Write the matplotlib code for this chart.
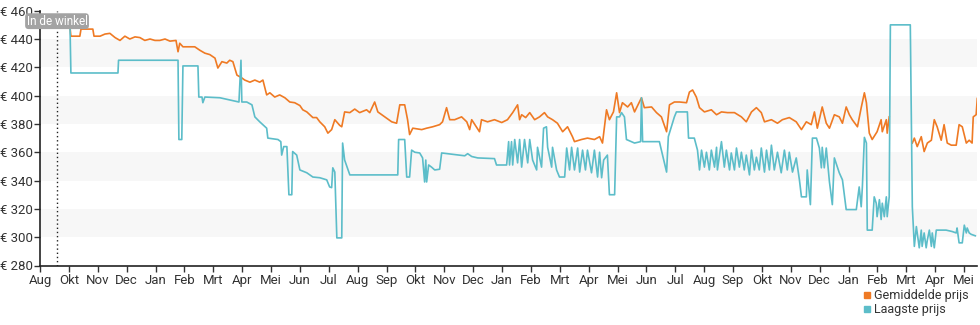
import numpy as np
import matplotlib.pyplot as plt
from matplotlib.lines import Line2D

# Month ticks (one tick per month, position 0 = left edge of the axis)
MONTH_LABELS = ["Aug", "Okt", "Nov", "Dec", "Jan", "Feb", "Mrt", "Apr", "Mei",
                "Jun", "Jul", "Aug", "Sep", "Okt", "Nov", "Dec", "Jan", "Feb",
                "Mrt", "Apr", "Mei", "Jun", "Jul", "Aug", "Sep", "Okt", "Nov",
                "Dec", "Jan", "Feb", "Mrt", "Apr", "Mei"]
Y_TICKS = [280, 300, 320, 340, 360, 380, 400, 420, 440, 460]
STORE_MONTH = 0.59  # "In de winkel" marker

# Gemiddelde prijs (average price), time in months from the left edge
avg_month = [0.00, 0.59, 0.76, 0.90, 1.04, 1.07, 1.38, 1.42, 1.83, 1.87, 2.08, 2.25,
             2.42, 2.60, 2.77, 2.94, 3.11, 3.29, 3.46, 3.63, 3.81, 3.98, 4.15, 4.33,
             4.50, 4.71, 4.78, 4.84, 4.95, 5.19, 5.36, 5.54, 5.71, 5.88, 6.06, 6.16,
             6.30, 6.47, 6.57, 6.68, 6.82, 6.99, 7.09, 7.27, 7.44, 7.61, 7.72, 7.85,
             7.96, 8.13, 8.30, 8.48, 8.65, 8.82, 9.00, 9.10, 9.24, 9.45, 9.58, 9.69,
             9.86, 9.97, 10.10, 10.21, 10.38, 10.45, 10.55, 10.73, 10.90, 11.07, 11.31,
             11.42, 11.59, 11.70, 11.94, 12.18, 12.35, 12.46, 12.63, 12.73, 12.80, 12.91,
             13.22, 13.39, 13.60, 13.84, 13.94, 14.08, 14.19, 14.36, 14.60, 14.78, 14.88,
             14.95, 15.22, 15.29, 15.50, 15.74, 15.99, 16.19, 16.37, 16.54, 16.61, 16.68,
             16.82, 16.96, 17.13, 17.30, 17.47, 17.58, 17.75, 17.92, 18.10, 18.27, 18.44,
             18.51, 18.75, 18.96, 19.20, 19.38, 19.48, 19.62, 19.72, 19.86, 19.97, 20.07,
             20.17, 20.35, 20.48, 20.59, 20.83, 20.93, 21.18, 21.35, 21.52, 21.70, 21.80,
             21.97, 22.15, 22.39, 22.49, 22.60, 22.73, 22.84, 23.01, 23.25, 23.43, 23.60,
             23.81, 24.05, 24.29, 24.46, 24.64, 24.81, 24.98, 25.09, 25.33, 25.54, 25.71,
             25.95, 26.19, 26.37, 26.54, 26.71, 26.82, 26.92, 27.09, 27.23, 27.34, 27.51,
             27.68, 27.79, 27.92, 28.03, 28.13, 28.31, 28.44, 28.55, 28.62, 28.72, 28.82,
             28.99, 29.13, 29.17, 29.31, 29.34, 29.41, 29.80, 30.21, 30.28, 30.38, 30.52,
             30.62, 30.73, 30.87, 30.97, 31.07, 31.21, 31.31, 31.42, 31.56, 31.73, 31.83,
             31.94, 32.08, 32.18, 32.28, 32.32, 32.42, 32.46]
avg_price = [449, 449, 455, 452, 448, 442, 442, 447, 447, 442, 442, 443.5,
             444, 441, 439, 442, 440, 441.5, 441, 439, 440, 439, 439, 440,
             438.5, 439, 431, 437, 434.5, 434.5, 434.5, 432, 430, 429, 426.5, 419.5,
             424, 423, 425, 424, 414.5, 412.5, 411, 409.5, 411, 409.5, 411, 400.5,
             402, 399, 400.5, 398.5, 395.5, 395, 393, 390, 388.5, 384.5, 384.5, 381.5,
             378, 373.5, 376, 383, 379, 378, 388.5, 388, 390.5, 388, 390,
             388, 395.5, 388.5, 385, 381.5, 380.5, 393.5, 393.5, 383, 372.5, 377,
             376, 377, 378, 379.5, 381.5, 391.5, 383, 383, 385, 381.5, 376,
             383, 374.5, 383, 381.5, 383, 381, 383, 388, 393.5, 383, 386.5,
             384.5, 388, 383, 385, 388, 385, 383, 380.5, 374.5, 378, 371,
             367.5, 369, 370, 369, 371, 366.5, 390, 383, 388.5, 402, 388,
             395, 392, 395, 388.5, 398.5, 391.5, 392, 388, 385, 374.5, 393.5,
             395.5, 395.5, 395, 402.5, 404, 399, 391.5, 388.5, 390, 386.5, 388.5,
             388, 388, 385, 381.5, 388.5, 391.5, 388, 381.5, 383, 380.5, 383,
             384.5, 381.5, 376, 381.5, 379.5, 388.5, 377, 392, 380.5, 377, 386.5,
             385, 380.5, 392, 386.5, 383, 378, 391.5, 402, 395, 373.5, 369,
             374.5, 383, 374.5, 383, 373.5, 385, np.nan, 366.5, 370, 364, 371,
             360.5, 366.5, 368.5, 383, 378, 368.5, 379.5, 366.5, 365, 365, 379.5,
             378, 366.5, 368.5, 366.5, 385, 386.5, 398]

# Laagste prijs (lowest price)
low_month = [0.00, 0.59, 0.62, 1.04, 1.07, 2.70, 2.72, 4.78, 4.81, 4.91, 4.95, 5.47,
             5.50, 5.61, 5.64, 5.71, 6.23, 6.89, 6.96, 6.99, 7.16, 7.34, 7.44, 7.61,
             7.85, 7.89, 8.24, 8.34, 8.37, 8.44, 8.55, 8.62, 8.72, 8.75, 8.89, 9.00,
             9.24, 9.45, 9.69, 9.93, 10.03, 10.10, 10.14, 10.21, 10.28, 10.45, 10.48,
             10.55, 10.73, 12.39, 12.42, 12.63, 12.70, 12.80, 12.87, 12.98, 13.15, 13.25,
             13.32, 13.36, 13.39, 13.46, 13.56, 13.67, 13.84, 13.91, 14.71, 14.81, 14.95,
             15.16, 15.74, 15.81, 16.16, 16.23, 16.26, 16.33, 16.37, 16.44, 16.54, 16.61,
             16.68, 16.78, 16.89, 16.96, 17.06, 17.20, 17.23, 17.37, 17.44, 17.54, 17.58,
             17.72, 17.75, 17.89, 17.99, 18.17, 18.24, 18.34, 18.41, 18.51, 18.62, 18.69,
             18.79, 18.89, 18.96, 19.10, 19.20, 19.31, 19.38, 19.45, 19.52, 19.65, 19.72,
             19.90, 19.97, 20.07, 20.14, 20.24, 20.31, 20.59, 20.80, 20.83, 20.87, 21.45,
             21.52, 21.70, 21.76, 21.97, 22.04, 22.42, 22.46, 22.66, 22.77, 22.84, 22.91,
             23.01, 23.08, 23.18, 23.25, 23.36, 23.43, 23.46, 23.60, 23.70, 23.77, 23.88,
             23.94, 24.05, 24.12, 24.22, 24.29, 24.39, 24.46, 24.57, 24.64, 24.74, 24.81,
             24.91, 24.98, 25.09, 25.16, 25.26, 25.33, 25.43, 25.54, 25.67, 25.78, 25.88,
             25.95, 26.06, 26.19, 26.30, 26.37, 26.54, 26.57, 26.68, 26.75, 26.89, 26.99,
             27.06, 27.09, 27.16, 27.23, 27.34, 27.44, 27.51, 27.68, 27.79, 27.92, 28.27,
             28.37, 28.44, 28.48, 28.55, 28.62, 28.65, 28.82, 28.89, 28.96, 28.99, 29.07,
             29.13, 29.17, 29.24, 29.31, 29.34, 29.41, 29.45, 30.14, 30.21, 30.28, 30.35,
             30.38, 30.45, 30.52, 30.55, 30.62, 30.69, 30.73, 30.80, 30.87, 30.90, 30.97,
             31.04, 31.21, 31.38, 31.59, 31.73, 31.76, 31.83, 31.94, 32.01, 32.08, 32.11,
             32.18, 32.25, 32.39]
low_price = [450, 449, 448, 448, 416, 416, 425, 425, 369, 369, 421, 421,
             399, 399, 395, 399, 398.5, 395.5, 425, 395.5, 395.5, 393.5, 385, 381.5,
             377, 370, 369, 367.5, 358, 364, 364, 330, 330, 360.5, 358, 347.5,
             345.5, 342.5, 342, 340.5, 335.5, 335, 349, 346, 299.5, 299.5, 366.5,
             354.5, 344, 344, 369, 369, 342.5, 342.5, 361.5, 360, 359.5, 356,
             339, 354.5, 339, 351, 349.5, 347.5, 348, 359.5, 357.5, 359, 357,
             356, 355.5, 351, 351, 367.5, 351, 367.5, 351, 369, 352.5, 369,
             349.5, 369, 352.5, 369, 354.5, 347.5, 363.5, 349.5, 377, 378, 363.5,
             349.5, 363.5, 347.5, 342.5, 342.5, 363, 347.5, 363.5, 347.5, 363, 346,
             361.5, 347.5, 361.5, 345.5, 361.5, 342.5, 360, 342, 354.5, 358, 330,
             330, 385, 385, 388, 385, 369, 366.5, 367.5, 398.5, 367.5, 367.5,
             361.5, 346, 371, 385, 388.5, 388.5, 370, 370, 361.5, 347.5, 361.5,
             349.5, 360, 347.5, 361.5, 349.5, 363.5, 347.5, 367.5, 349.5, 361.5, 347.5,
             359.5, 347.5, 363, 349.5, 360, 347.5, 358, 344, 361.5, 347.5, 356.5,
             347.5, 363, 346, 361.5, 347.5, 365, 347.5, 360, 345.5, 361.5, 347.5,
             360, 346, 356, 340.5, 328.5, 328.5, 347.5, 323, 370, 370, 363,
             349, 363.5, 349, 363, 339, 323, 356, 345.5, 340.5, 319.5, 319.5,
             335.5, 321.5, 335.5, 370.5, 366.5, 305, 305, 328.5, 324, 314.5, 326.5,
             312.5, 324, 314.5, 328.5, 314.5, 328.5, 450, 450, 321.5, 293.5, 307.5,
             303, 292.5, 305, 293.5, 303, 292.5, 298, 305, 293.5, 303, 292.5,
             305, 305, 305, 304, 303, 306.5, 296, 296, 308.5, 303, 306.5,
             303, 302, 301]

AVG_COLOR = "#ef7a24"
LOW_COLOR = "#5cbdc9"
TEXT_COLOR = "#333333"

plt.rcParams['font.family'] = ['Roboto', 'DejaVu Sans']

fig = plt.figure(figsize=(9.8, 3.25), dpi=100)
ax = fig.add_axes([40 / 980, 59.5 / 325, 937 / 980, 254.8 / 325])

# alternating grey bands behind the data
for lo in Y_TICKS[1:-1:2]:
    ax.axhspan(lo, lo + 20, color="#f7f7f7", lw=0, zorder=0)

ax.plot(avg_month, avg_price, color=AVG_COLOR, lw=1.2, zorder=3)
ax.plot(low_month, low_price, color=LOW_COLOR, lw=1.2, zorder=4)

ax.axvline(STORE_MONTH, color="#222222", lw=1.0, ls=(0, (1, 2)), zorder=5)
ax.text(STORE_MONTH, 452.6, "In de winkel", ha="center", va="center", fontsize=8.5,
        color="white", zorder=6, clip_on=False,
        bbox=dict(boxstyle="round,pad=0.12,rounding_size=0.3", fc="#a3a3a3", ec="none"))

ax.set_xlim(0, 32.45)
ax.set_ylim(280, 460)
ax.set_xticks(range(len(MONTH_LABELS)))
ax.set_xticklabels(MONTH_LABELS)
ax.set_yticks(Y_TICKS)
ax.set_yticklabels([f"€ {v}" for v in Y_TICKS])
ax.tick_params(axis="both", labelsize=9.5, colors=TEXT_COLOR, length=4, width=1, pad=1)
ax.tick_params(axis="x", pad=2)

for side in ["top", "right"]:
    ax.spines[side].set_visible(False)
for side in ["left", "bottom"]:
    ax.spines[side].set_color("#222222")
    ax.spines[side].set_linewidth(1.2)

handles = [Line2D([], [], marker="s", ls="none", color=AVG_COLOR, markersize=5),
           Line2D([], [], marker="s", ls="none", color=LOW_COLOR, markersize=5)]
fig.legend(handles, ["Gemiddelde prijs", "Laagste prijs"], loc="lower right",
           bbox_to_anchor=(0.997, 0.0), frameon=False, fontsize=9,
           handlelength=0.6, handletextpad=0.2, labelspacing=0.1,
           labelcolor=TEXT_COLOR, borderaxespad=0.3)

fig.savefig("out.png", dpi=100)
